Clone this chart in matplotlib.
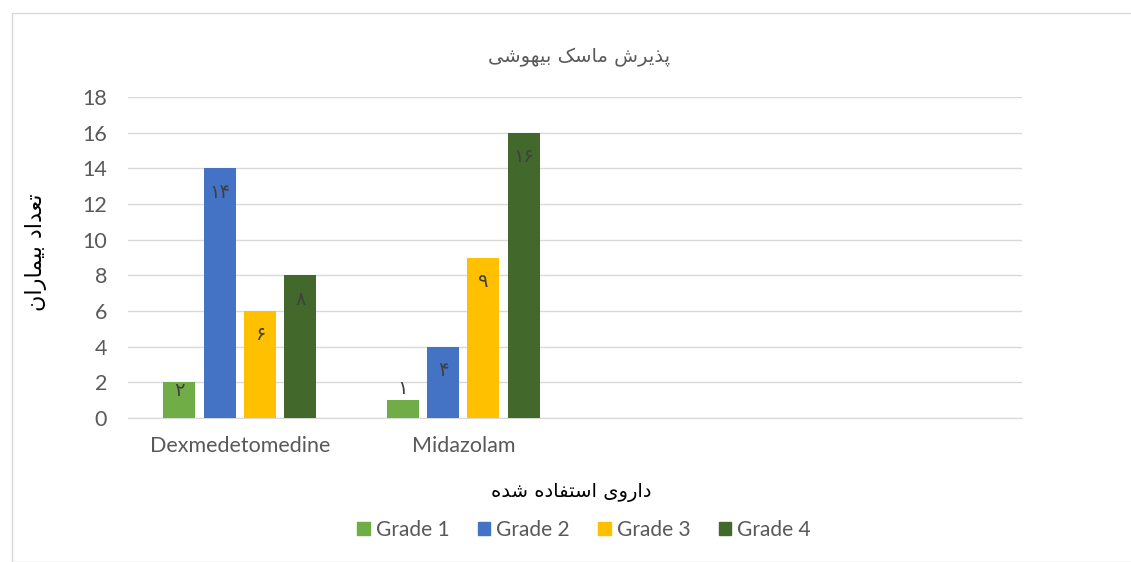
import matplotlib
matplotlib.use("Agg")
import matplotlib.pyplot as plt
import numpy as np
from matplotlib.patches import Rectangle

# Persian text has to be shaped by hand (matplotlib does no Arabic joining / RTL)
FORMS = {
    'ا': ('\uFE8D', '\uFE8E', None, None),
    'ب': ('\uFE8F', '\uFE90', '\uFE91', '\uFE92'),
    'پ': ('\uFB56', '\uFB57', '\uFB58', '\uFB59'),
    'ت': ('\uFE95', '\uFE96', '\uFE97', '\uFE98'),
    'د': ('\uFEA9', '\uFEAA', None, None),
    'ذ': ('\uFEAB', '\uFEAC', None, None),
    'ر': ('\uFEAD', '\uFEAE', None, None),
    'س': ('\uFEB1', '\uFEB2', '\uFEB3', '\uFEB4'),
    'ش': ('\uFEB5', '\uFEB6', '\uFEB7', '\uFEB8'),
    'ع': ('\uFEC9', '\uFECA', '\uFECB', '\uFECC'),
    'ف': ('\uFED1', '\uFED2', '\uFED3', '\uFED4'),
    'م': ('\uFEE1', '\uFEE2', '\uFEE3', '\uFEE4'),
    'ن': ('\uFEE5', '\uFEE6', '\uFEE7', '\uFEE8'),
    'ه': ('\uFEE9', '\uFEEA', '\uFEEB', '\uFEEC'),
    'و': ('\uFEED', '\uFEEE', None, None),
    'ک': ('\uFB8E', '\uFB8F', '\uFB90', '\uFB91'),
    'ی': ('\uFBFC', '\uFBFD', '\uFBFE', '\uFBFF'),
}
RIGHT_ONLY = set('ادذرو')


def fa(text):
    out = []
    for i, c in enumerate(text):
        if c not in FORMS:
            out.append(c)
            continue
        prev = text[i - 1] if i > 0 else None
        nxt = text[i + 1] if i + 1 < len(text) else None
        jp = prev in FORMS and prev not in RIGHT_ONLY
        jn = nxt in FORMS and c not in RIGHT_ONLY
        iso, fin, ini, med = FORMS[c]
        out.append(med if jp and jn else fin if jp else ini if jn else iso)
    return ''.join(reversed(out))


def fa_digits(n):
    return ''.join('۰۱۲۳۴۵۶۷۸۹'[int(d)] for d in str(n))


title = 'پذیرش ماسک بیهوشی'
ylabel = 'تعداد بیماران'
xlabel = 'داروی استفاده شده'
categories = ['Dexmedetomedine', 'Midazolam', '', '']
series = ['Grade 1', 'Grade 2', 'Grade 3', 'Grade 4']
values = {
    'Grade 1': [2, 1],
    'Grade 2': [14, 4],
    'Grade 3': [6, 9],
    'Grade 4': [8, 16],
}
colors = ['#70AD47', '#4472C4', '#FFC000', '#43682B']

fig = plt.figure(figsize=(11.31, 5.62), dpi=100)
fig.patches.append(Rectangle((12 / 1131, 0), 1.2, (562 - 13) / 562, transform=fig.transFigure,
                             fill=False, edgecolor='#D9D9D9', linewidth=1))
ax = fig.add_axes([128 / 1131, 1 - 418 / 562, 894 / 1131, 321 / 562])

fa_font = ['DejaVu Sans']
txt = '#595959'
x = np.arange(len(categories))
w = 0.143
step = 0.181
for i, (s, c) in enumerate(zip(series, colors)):
    vals = values[s]
    xs = x[:len(vals)] + (i - 1.5) * step
    bars = ax.bar(xs, vals, width=w, color=c, zorder=3)
    for b, v in zip(bars, vals):
        if v >= 3:
            off = -24
        elif v >= 2:
            off = -8
        else:
            off = 12
        ax.annotate(fa_digits(v), (b.get_x() + b.get_width() / 2, v), xytext=(0, off * 0.72),
                    textcoords='offset points', ha='center', va='center', fontsize=14,
                    color='#404040', family=fa_font, zorder=4)

ax.set_xlim(-0.5, len(categories) - 0.5)
ax.set_ylim(0, 18)
ax.set_yticks(range(0, 19, 2))
ax.set_xticks(x)
ax.set_xticklabels(categories)
ax.grid(axis='y', color='#D9D9D9', linewidth=1, zorder=0)
for sp in ['top', 'right', 'left']:
    ax.spines[sp].set_visible(False)
ax.spines['bottom'].set_color('#D9D9D9')
ax.tick_params(length=0, labelsize=15.5, labelcolor=txt)
for lab in ax.get_xticklabels() + ax.get_yticklabels():
    lab.set_family('Lato')
ax.tick_params(axis='y', pad=15)
ax.tick_params(axis='x', pad=13)

fig.text(579 / 1131, 1 - 57 / 562, fa(title), ha='center', va='center', fontsize=14,
         color=txt, family=fa_font)
fig.text(36 / 1131, 1 - 252 / 562, fa(ylabel), ha='center', va='center', rotation=90,
         fontsize=16, color='#000000', family=fa_font)
fig.text(571 / 1131, 1 - 492 / 562, fa(xlabel), ha='center', va='center', fontsize=14,
         color='#000000', family=fa_font)

handles = [Rectangle((0, 0), 1, 1, color=c) for c in colors]
fig.legend(handles, series, loc='center', bbox_to_anchor=(584 / 1131, 1 - 530 / 562), ncol=4,
           frameon=False, handlelength=0.6, handleheight=0.6, handletextpad=0.3,
           columnspacing=1.35, prop={'family': 'Lato', 'size': 15}, labelcolor=txt)

fig.savefig('out.png', dpi=100)
